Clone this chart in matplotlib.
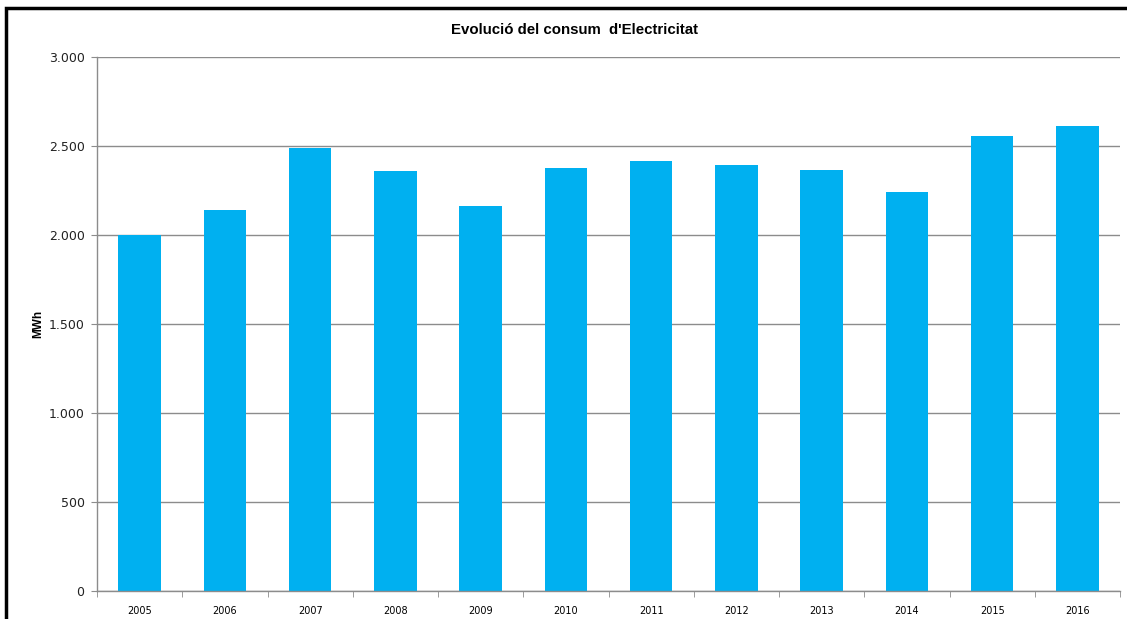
import matplotlib.pyplot as plt
from matplotlib.patches import Rectangle
from matplotlib.ticker import FixedLocator, FuncFormatter

years = ["2005", "2006", "2007", "2008", "2009", "2010",
         "2011", "2012", "2013", "2014", "2015", "2016"]
consum = [2000, 2139, 2487, 2358, 2163, 2376,
          2416, 2392, 2363, 2242, 2558, 2611]

plt.rcParams['font.family'] = ['Liberation Sans', 'DejaVu Sans']

fig = plt.figure(figsize=(11.27, 6.19), dpi=100)
ax = fig.add_axes([0.0861, 0.0452, 0.9077, 0.8628])

x = list(range(len(years)))
ax.bar(x, consum, width=0.5, color='#00b0f0', zorder=2)

ax.set_xlim(-0.5, len(years) - 0.5)
ax.set_ylim(0, 3000)
ax.set_yticks(range(0, 3001, 500))
ax.yaxis.set_major_formatter(FuncFormatter(lambda v, p: f"{int(v):,}".replace(",", ".")))
ax.grid(axis='y', color='#8c8c8c', linewidth=1, zorder=1)

ax.set_xticks(x)
ax.set_xticklabels(years)
ax.xaxis.set_minor_locator(FixedLocator([i - 0.5 for i in range(len(years) + 1)]))
ax.tick_params(axis='x', which='major', length=0, pad=11)
ax.tick_params(axis='x', which='minor', length=4, color='#8c8c8c', direction='out')
ax.tick_params(axis='y', length=4, color='#8c8c8c', pad=5)
for lbl in ax.get_xticklabels():
    lbl.set_fontfamily('DejaVu Sans')
    lbl.set_fontsize(7)
for lbl in ax.get_yticklabels():
    lbl.set_fontfamily('DejaVu Sans')
    lbl.set_fontsize(9)
    lbl.set_color('#222222')

for s in ['top', 'right']:
    ax.spines[s].set_visible(False)
for s in ['left', 'bottom']:
    ax.spines[s].set_color('#8c8c8c')
    ax.spines[s].set_linewidth(1)

ax.set_ylabel("MWh", fontsize=8.5, fontweight='bold')
ax.yaxis.set_label_coords(-0.052, 0.5)
fig.text(0.51, 0.951, "Evolució del consum  d'Electricitat",
         ha='center', va='center', fontsize=10.8, fontweight='bold')

# chart frame (cut off at right and bottom in the original)
fig.patches.append(Rectangle((6 / 1127, -0.05), 1.1, 1 - 8 / 619 + 0.05,
                             transform=fig.transFigure, fill=False,
                             edgecolor='black', linewidth=2.5))

fig.savefig("out.png", dpi=100)
